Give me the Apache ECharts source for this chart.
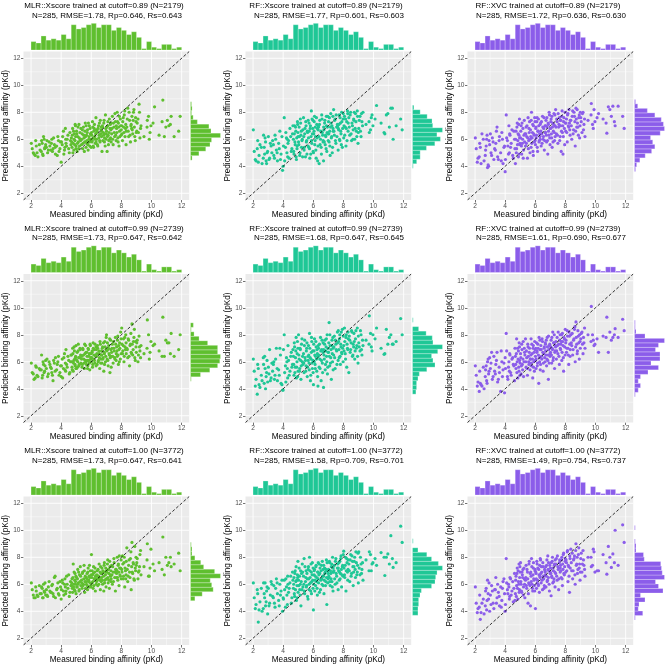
<!DOCTYPE html>
<html>
<head>
<meta charset="utf-8">
<script src="https://cdn.jsdelivr.net/npm/echarts@6/dist/echarts.min.js"></script>
<style>
  html, body { margin: 0; padding: 0; background: #fff; }
  #chart { width: 666px; height: 667px; }
</style>
</head>
<body>
<div id="chart"></div>
<script>
// measured affinity of the test set (same complexes in every panel), read in two passes
const measured = [
  2.02, 2.15, 2.28, 2.35, 2.46, 2.6,
  2.7, 2.77, 2.83, 2.9, 2.97, 3.02, 3.1, 3.2, 3.3,
  3.38, 3.46, 3.55, 3.62, 3.7, 3.78, 3.86, 3.96,
  4.0, 4.07, 4.15, 4.22, 4.3, 4.36, 4.45, 4.54, 4.62,
  4.68, 4.72, 4.76, 4.8, 4.84, 4.88, 4.92, 4.95, 4.99,
  5.02, 5.06, 5.1, 5.14, 5.18, 5.22, 5.27, 5.31,
  5.35, 5.39, 5.43, 5.48, 5.52, 5.56, 5.6, 5.65,
  5.68, 5.72, 5.75, 5.79, 5.83, 5.87, 5.9, 5.94, 5.98,
  6.01, 6.05, 6.08, 6.12, 6.15, 6.19, 6.23, 6.27, 6.31,
  6.35, 6.39, 6.43, 6.48, 6.52, 6.56, 6.6, 6.65,
  6.68, 6.71, 6.75, 6.79, 6.83, 6.87, 6.9, 6.94, 6.98,
  7.01, 7.05, 7.09, 7.12, 7.16, 7.2, 7.24, 7.28, 7.31,
  7.35, 7.4, 7.45, 7.5, 7.55, 7.6, 7.65,
  7.68, 7.72, 7.76, 7.8, 7.84, 7.88, 7.93, 7.98,
  8.02, 8.07, 8.12, 8.17, 8.22, 8.27, 8.31,
  8.36, 8.42, 8.48, 8.54, 8.6, 8.65, 8.7, 8.75, 8.8, 8.86, 8.92, 8.97,
  9.02, 9.1, 9.17, 9.23, 9.3, 9.5, 9.72, 9.85, 9.96, 10.2, 10.5, 10.75, 10.85, 11.15, 11.3, 11.5, 11.8, 11.9
];
const measuredB = [
  2.08, 2.2, 2.31, 2.4, 2.55,
  2.68, 2.74, 2.8, 2.87, 2.93, 3.06, 3.15, 3.25,
  3.35, 3.42, 3.5, 3.6, 3.74, 3.82, 3.92,
  4.02, 4.1, 4.18, 4.25, 4.28, 4.32, 4.4, 4.5, 4.58, 4.65,
  4.7, 4.74, 4.78, 4.82, 4.86, 4.9, 4.93, 4.96, 4.98,
  5.04, 5.08, 5.12, 5.16, 5.2, 5.25, 5.29,
  5.37, 5.41, 5.45, 5.5, 5.54, 5.58, 5.62, 5.66,
  5.7, 5.73, 5.77, 5.81, 5.85, 5.88, 5.92, 5.96, 5.99,
  6.03, 6.06, 6.1, 6.13, 6.17, 6.21, 6.25, 6.29, 6.32, 6.33,
  6.37, 6.41, 6.45, 6.5, 6.54, 6.58, 6.62, 6.66,
  6.69, 6.73, 6.77, 6.81, 6.85, 6.88, 6.92, 6.96, 6.99,
  7.03, 7.07, 7.1, 7.14, 7.18, 7.22, 7.26, 7.3, 7.32,
  7.37, 7.42, 7.47, 7.52, 7.57, 7.62, 7.66,
  7.7, 7.74, 7.78, 7.82, 7.86, 7.9, 7.95, 7.99,
  8.04, 8.09, 8.14, 8.19, 8.24, 8.29, 8.32,
  8.39, 8.45, 8.51, 8.57, 8.63, 8.68, 8.72, 8.78, 8.83, 8.89, 8.94, 8.99,
  9.05, 9.13, 9.2, 9.27, 9.7, 9.8, 9.9, 10.1, 10.7, 10.95, 11.05, 11.25
];

const predMLR089 = [
  5.7, 5.0, 4.8, 5.5, 4.7, 5.2,
  5.9, 4.9, 6.2, 5.3, 5.6, 5.4, 5.0, 5.8, 5.2,
  6.0, 5.3, 5.6, 4.9, 5.5, 6.2, 5.1, 5.8,
  4.3, 5.6, 6.6, 5.2, 6.0, 5.5, 6.3, 5.0, 5.9,
  6.1, 5.4, 6.8, 5.7, 5.2, 6.4, 5.9, 7.0, 5.5,
  6.6, 5.1, 6.2, 5.8, 7.1, 5.5, 6.0, 6.8,
  5.6, 6.4, 5.3, 6.9, 6.1, 5.8, 7.2, 5.4,
  6.3, 5.7, 6.7, 5.2, 6.0, 7.0, 5.5, 6.4, 5.9,
  6.5, 5.8, 7.3, 6.1, 5.4, 6.8, 6.2, 5.7, 7.6,
  6.0, 6.6, 5.5, 7.0, 6.3, 5.9, 7.4, 6.7,
  6.2, 5.1, 6.9, 6.5, 7.2, 5.8, 6.4, 7.8, 6.0,
  6.6, 5.1, 7.0, 6.3, 5.9, 7.5, 6.8, 6.1, 7.2,
  6.4, 7.7, 5.6, 6.9, 6.2, 7.3, 5.9,
  6.8, 8.0, 6.1, 7.2, 5.5, 6.6, 7.5, 6.3,
  7.0, 5.9, 7.6, 6.5, 8.1, 6.8, 5.6,
  6.9, 8.3, 6.2, 7.4, 5.8, 7.1, 7.7, 6.4, 8.0, 6.9, 5.9, 7.3,
  6.6, 7.5, 8.6, 6.1, 7.0, 6.2, 7.4, 6.0, 7.0, 8.4, 6.3, 8.9, 6.2, 7.0, 7.7, 6.2, 6.6, 7.7
];
const predMLR089B = [
  5.3, 4.9, 5.9, 5.0, 5.6,
  5.1, 5.7, 4.8, 6.0, 5.4, 5.9, 5.2, 5.5,
  5.7, 5.1, 6.1, 5.4, 4.8, 5.9, 5.3,
  5.8, 6.2, 4.9, 5.4, 6.8, 5.7, 6.0, 5.3, 6.5, 5.6,
  5.8, 6.3, 5.0, 6.6, 6.0, 5.6, 7.1, 6.2, 5.3,
  6.4, 5.7, 6.9, 5.3, 6.1, 6.5, 5.9,
  6.0, 6.7, 5.7, 6.3, 5.1, 6.6, 6.2, 7.0,
  5.9, 6.5, 5.6, 7.2, 6.2, 5.8, 6.8, 6.0, 5.4,
  6.3, 5.9, 6.9, 5.5, 6.6, 7.1, 6.0, 6.4, 5.8, 6.7,
  6.5, 5.6, 6.8, 6.1, 7.2, 5.8, 6.4, 6.9,
  6.6, 7.0, 5.9, 6.3, 7.4, 6.1, 5.5, 6.8, 6.4,
  6.9, 6.2, 7.3, 5.6, 6.5, 6.0, 7.1, 6.7, 5.8,
  6.8, 6.0, 7.2, 6.5, 7.9, 6.3, 7.0,
  6.5, 7.3, 5.8, 6.9, 7.7, 6.2, 7.0, 6.7,
  6.4, 7.3, 6.9, 7.8, 6.2, 7.1, 6.6,
  7.5, 6.6, 8.0, 6.3, 7.0, 6.8, 6.7, 7.4, 8.2, 6.2, 7.6, 6.5,
  7.2, 6.5, 8.0, 6.8, 6.9, 7.7, 6.5, 7.2, 7.3, 6.9, 7.4, 7.1
];
const predRF089 = [
  6.7, 4.5, 5.3, 4.3, 5.6, 4.2,
  6.3, 4.9, 5.8, 4.2, 5.1, 6.2, 4.6, 5.5, 5.9,
  4.8, 6.3, 5.2, 4.4, 5.7, 6.6, 4.9, 3.7,
  4.0, 7.6, 5.4, 6.1, 4.7, 5.9, 6.8, 5.1, 6.4,
  6.0, 4.9, 7.0, 5.6, 6.6, 4.5, 5.3, 7.3, 6.2,
  5.8, 6.9, 4.8, 7.5, 6.3, 5.4, 6.0, 6.7,
  7.6, 5.2, 6.4, 4.7, 7.0, 5.9, 6.6, 5.5,
  6.1, 7.2, 5.3, 6.8, 4.9, 8.1, 5.7, 6.4, 7.4,
  5.0, 6.6, 7.7, 5.9, 6.2, 4.6, 7.1, 6.8, 5.5,
  6.9, 4.2, 7.4, 6.0, 5.4, 7.8, 6.5, 5.8,
  4.4, 6.7, 7.2, 5.6, 6.2, 7.7, 5.1, 6.9, 6.4,
  7.3, 5.8, 6.6, 4.8, 7.9, 6.1, 7.0, 5.4, 6.8,
  8.2, 6.3, 7.5, 5.7, 6.9, 7.1, 5.2,
  6.7, 7.8, 5.9, 7.2, 6.4, 8.0, 5.4, 7.5,
  6.1, 7.7, 6.9, 5.5, 7.3, 8.1, 6.6,
  7.6, 6.3, 8.0, 5.9, 7.0, 6.7, 7.4, 6.0, 7.9, 6.6, 8.1, 5.7,
  6.8, 7.7, 6.2, 7.3, 8.0, 7.1, 6.5, 7.6, 7.0, 8.5, 7.2, 6.4, 7.8, 8.3, 6.0, 7.0, 7.5, 6.7
];
const predRF089B = [
  5.1, 4.4, 5.9, 4.8, 5.4,
  4.6, 5.4, 6.1, 4.4, 5.0, 4.5, 5.7, 5.0,
  5.6, 4.6, 6.0, 5.0, 5.3, 4.5, 6.2,
  5.5, 4.4, 6.5, 5.0, 6.0, 5.7, 4.6, 6.2, 5.3, 7.0,
  5.1, 6.4, 5.8, 6.9, 4.7, 6.1, 5.5, 7.1, 6.5,
  5.6, 6.2, 5.0, 7.2, 6.6, 5.9, 4.7,
  6.2, 5.4, 6.8, 7.3, 5.8, 4.9, 6.5, 7.4,
  5.4, 6.6, 4.6, 7.0, 6.2, 5.9, 7.5, 6.8, 5.1,
  6.4, 7.3, 5.6, 6.9, 5.2, 7.6, 6.1, 4.4, 6.7, 7.0,
  6.2, 7.1, 5.6, 6.6, 4.9, 7.5, 6.3, 5.9,
  6.9, 5.8, 7.4, 6.3, 5.3, 7.0, 6.5, 7.7, 5.9,
  6.4, 7.6, 5.5, 6.9, 7.2, 6.2, 5.0, 7.7, 6.6,
  6.6, 7.4, 5.9, 7.8, 6.2, 7.0, 6.8,
  7.1, 6.0, 7.6, 6.6, 5.6, 7.3, 6.8, 7.9,
  7.0, 6.3, 7.5, 6.8, 5.9, 7.9, 7.2,
  6.9, 7.8, 6.4, 7.2, 6.0, 7.5, 8.0, 6.8, 7.3, 6.2, 7.7, 6.5,
  7.4, 6.6, 7.9, 7.0, 7.3, 6.7, 7.8, 7.5, 6.5, 7.9, 6.9, 8.3
];
const predXVC089 = [
  6.1, 4.3, 4.7, 5.4, 6.4, 4.4,
  5.2, 6.0, 3.9, 4.0, 5.6, 6.4, 4.8, 5.8, 5.3,
  5.7, 6.9, 4.5, 6.2, 5.0, 6.5, 4.2, 5.5,
  3.6, 7.8, 5.9, 4.9, 6.4, 5.4, 6.7, 4.6, 6.0,
  4.2, 6.6, 5.3, 7.2, 5.9, 4.7, 6.3, 7.5, 5.6,
  6.1, 7.0, 4.9, 5.7, 6.8, 5.2, 7.4, 6.4,
  5.5, 6.9, 6.2, 4.6, 7.6, 5.9, 6.5, 5.0,
  6.7, 5.4, 8.0, 6.1, 7.1, 4.8, 6.4, 5.8, 7.3,
  5.6, 6.9, 6.3, 7.6, 5.1, 6.6, 7.0, 5.9, 6.2,
  7.2, 5.5, 6.4, 7.7, 6.0, 6.8, 5.2, 7.0,
  6.5, 7.4, 5.8, 6.9, 4.9, 7.1, 6.3, 7.8, 5.6,
  6.8, 7.5, 6.1, 5.4, 7.2, 6.6, 7.9, 5.9, 7.0,
  8.2, 6.4, 7.3, 5.7, 6.9, 7.6, 6.2,
  7.0, 5.1, 7.7, 6.5, 4.9, 7.3, 6.8, 8.0,
  6.6, 7.5, 5.8, 7.9, 6.9, 7.2, 6.3,
  7.4, 6.0, 8.1, 6.7, 7.7, 5.5, 8.3, 6.9, 7.2, 6.3, 7.8, 7.0,
  7.6, 6.5, 8.0, 7.1, 6.2, 7.4, 8.65, 6.8, 7.3, 7.9, 7.5, 6.45, 8.4, 8.45, 7.0, 8.45, 7.7, 6.8
];
const predXVC089B = [
  5.3, 4.6, 5.7, 4.2, 6.0,
  4.8, 5.5, 6.3, 4.1, 5.9, 5.0, 6.1, 4.5,
  5.2, 6.6, 4.7, 5.9, 4.4, 6.0, 5.4,
  4.5, 6.1, 5.5, 7.0, 5.0, 6.3, 5.7, 4.8, 6.6, 5.3,
  6.0, 5.0, 6.9, 5.6, 6.4, 7.1, 4.9, 6.1, 5.7,
  6.6, 5.5, 7.2, 6.0, 4.6, 6.3, 5.8,
  6.4, 5.7, 7.0, 6.1, 5.3, 6.8, 7.3, 6.0,
  6.2, 7.4, 5.7, 6.5, 5.1, 7.0, 6.3, 7.6, 5.9,
  6.8, 6.1, 7.3, 5.4, 6.6, 7.5, 5.8, 6.4, 7.1, 6.0,
  6.6, 7.3, 5.7, 6.9, 6.2, 7.6, 5.9, 6.5,
  7.0, 6.3, 7.6, 5.9, 7.2, 6.6, 8.0, 6.1, 6.8,
  7.3, 6.4, 7.7, 6.9, 5.8, 7.1, 6.5, 7.8, 6.2,
  6.9, 7.5, 6.3, 7.9, 7.1, 5.9, 7.4,
  7.4, 6.6, 8.1, 7.0, 6.2, 7.6, 5.6, 7.2,
  7.2, 6.5, 7.8, 7.0, 8.2, 6.7, 7.4,
  7.0, 7.7, 6.4, 8.0, 7.3, 6.6, 7.5, 8.2, 6.9, 7.6, 6.1, 8.0,
  7.3, 7.9, 6.7, 7.5, 7.8, 7.1, 8.2, 7.6, 7.2, 8.2, 7.7, 7.3
];
const predMLR099 = [
  5.9, 5.1, 4.8, 5.6, 4.9, 5.4,
  6.5, 5.0, 5.8, 5.3, 6.1, 5.5, 4.9, 6.0, 5.6,
  5.2, 4.6, 5.9, 6.3, 5.4, 6.0, 5.0, 5.7,
  4.9, 6.2, 5.5, 6.6, 5.3, 5.8, 6.4, 5.1, 6.0,
  6.5, 5.6, 7.0, 5.3, 6.1, 6.8, 5.8, 6.3, 7.2,
  5.5, 6.7, 6.0, 7.3, 5.7, 6.3, 6.9, 5.9,
  6.2, 5.6, 7.0, 6.5, 5.9, 7.3, 6.1, 6.7,
  5.8, 6.4, 5.5, 7.0, 6.1, 6.6, 5.4, 7.2, 6.3,
  6.0, 6.7, 5.6, 7.4, 6.2, 6.9, 5.9, 6.5, 7.1,
  6.4, 5.8, 7.0, 6.1, 6.6, 5.5, 7.3, 6.2,
  6.8, 5.9, 7.1, 6.3, 5.3, 6.6, 7.5, 6.0, 6.9,
  8.0, 6.2, 6.9, 5.7, 7.2, 6.5, 5.2, 7.6, 6.4,
  6.7, 7.3, 5.9, 7.0, 6.3, 7.8, 6.1,
  7.1, 6.4, 7.9, 5.8, 6.9, 7.4, 6.2, 7.7,
  8.5, 6.6, 7.2, 6.0, 7.8, 6.9, 7.4,
  7.0, 6.3, 7.6, 5.7, 7.3, 6.7, 8.8, 6.5, 7.5, 8.4, 6.1, 7.1,
  7.4, 6.0, 7.9, 6.8, 7.2, 6.6, 9.1, 6.2, 7.5, 7.3, 6.8, 9.3, 6.4, 7.4, 8.1, 6.4, 6.9, 8.0
];
const predMLR099B = [
  5.2, 4.7, 5.7, 5.0, 5.5,
  5.4, 4.8, 6.0, 5.2, 5.7, 6.2, 5.1, 5.8,
  5.5, 5.0, 6.1, 5.3, 5.8, 6.4, 5.2,
  5.7, 4.8, 6.3, 5.4, 5.9, 6.9, 5.6, 6.1, 5.2, 6.5,
  6.0, 5.4, 6.6, 5.9, 7.1, 6.2, 5.7, 6.4, 5.5,
  6.1, 5.6, 6.8, 6.3, 5.8, 7.0, 6.5,
  6.4, 5.8, 6.9, 6.2, 5.5, 6.6, 7.2, 6.0,
  6.7, 6.1, 5.7, 6.9, 6.4, 5.9, 7.3, 6.2, 6.6,
  6.3, 6.8, 5.8, 7.0, 6.5, 6.1, 7.3, 6.4, 5.7, 6.9,
  6.6, 7.2, 6.0, 6.8, 6.3, 7.5, 5.9, 6.5,
  6.5, 7.0, 6.2, 7.4, 6.7, 5.8, 7.1, 6.4, 7.8,
  6.8, 7.4, 6.1, 7.0, 6.6, 7.7, 6.3, 6.9, 5.6,
  7.0, 6.4, 7.5, 6.8, 6.2, 7.3, 6.6,
  6.8, 7.6, 6.5, 7.2, 6.0, 7.0, 8.2, 6.6,
  7.3, 6.8, 7.7, 6.4, 7.1, 8.0, 6.6,
  6.9, 7.7, 6.4, 7.2, 8.1, 6.6, 7.3, 6.9, 7.8, 6.3, 7.5, 6.7,
  7.6, 6.5, 7.1, 6.3, 7.0, 8.0, 6.7, 7.2, 6.4, 7.6, 7.4, 6.6
];
const predRF099 = [
  6.2, 4.2, 3.6, 5.5, 4.1, 4.6,
  5.8, 6.4, 4.0, 5.2, 4.5, 5.6, 6.9, 4.8, 5.3,
  6.0, 5.0, 7.0, 4.6, 5.4, 7.0, 4.4, 3.9,
  3.9, 8.0, 5.7, 6.3, 4.8, 6.1, 5.3, 6.7, 5.8,
  6.4, 5.0, 7.1, 5.6, 6.8, 4.8, 6.0, 7.5, 5.3,
  8.0, 6.2, 5.5, 6.9, 4.7, 7.3, 6.0, 5.8,
  6.6, 5.2, 7.6, 6.1, 5.7, 7.0, 4.9, 6.4,
  7.2, 5.9, 8.1, 6.3, 5.0, 6.7, 7.5, 5.5, 6.1,
  4.3, 6.8, 7.7, 5.8, 6.4, 7.1, 5.3, 6.6, 4.2,
  7.0, 5.6, 6.2, 7.8, 4.6, 6.9, 5.9, 7.4,
  4.1, 6.5, 7.3, 5.4, 6.8, 7.7, 6.0, 5.1, 7.0,
  6.7, 8.9, 5.7, 7.2, 6.3, 4.7, 7.6, 6.0, 7.0,
  6.5, 7.9, 5.5, 7.3, 6.8, 8.2, 6.1,
  7.5, 6.3, 8.0, 5.8, 7.1, 6.7, 8.4, 6.0,
  7.2, 8.5, 6.6, 7.8, 5.6, 7.0, 8.2,
  5.2, 7.6, 6.9, 8.3, 6.4, 7.3, 8.1, 6.2, 7.7, 7.0, 8.5, 5.9,
  7.4, 6.8, 8.0, 6.5, 7.2, 7.6, 9.4, 7.1, 8.0, 8.5, 7.0, 6.6, 8.4, 8.0, 7.3, 7.5, 9.2, 8.0
];
const predRF099B = [
  5.3, 4.7, 5.8, 4.3, 5.0,
  6.3, 4.4, 5.5, 4.9, 6.1, 5.1, 4.6, 5.9,
  5.8, 4.7, 6.2, 5.5, 5.0, 6.5, 4.3,
  6.9, 5.2, 4.5, 6.0, 5.5, 7.2, 5.0, 6.4, 5.6, 6.9,
  5.8, 7.4, 5.2, 6.3, 7.8, 5.6, 6.6, 4.9, 7.0,
  6.5, 5.3, 7.0, 6.1, 5.7, 7.7, 6.4,
  5.9, 7.2, 6.3, 5.3, 6.8, 7.4, 5.6, 6.1,
  6.5, 5.4, 7.0, 4.6, 6.2, 7.8, 5.9, 6.8, 5.2,
  7.3, 6.0, 6.5, 5.5, 7.5, 6.2, 6.9, 4.9, 6.4, 7.2,
  6.5, 7.3, 5.5, 6.8, 6.1, 7.6, 5.2, 6.7,
  6.9, 6.2, 7.6, 5.8, 7.1, 6.4, 8.0, 5.6, 6.7,
  7.4, 6.4, 8.0, 5.9, 6.9, 7.2, 6.6, 7.8, 5.4,
  7.1, 6.3, 7.6, 6.9, 5.8, 7.4, 8.3,
  6.9, 7.7, 6.4, 7.3, 8.2, 6.6, 7.0, 7.9,
  6.8, 7.5, 6.2, 8.0, 7.3, 6.9, 7.7,
  7.9, 6.7, 7.4, 8.2, 6.5, 7.1, 7.5, 6.8, 8.3, 7.2, 6.4, 7.9,
  7.1, 8.3, 6.9, 7.6, 7.3, 8.1, 6.8, 7.7, 6.55, 7.3, 7.8, 7.3
];
const predXVC099 = [
  5.7, 4.2, 3.8, 4.4, 4.2, 4.0,
  5.4, 4.6, 6.0, 5.1, 6.3, 5.5, 6.7, 4.9, 5.3,
  5.8, 6.7, 4.7, 5.2, 3.8, 6.0, 5.4, 3.7,
  6.3, 8.1, 4.9, 5.6, 6.6, 5.2, 6.2, 5.8, 4.6,
  6.4, 5.5, 7.7, 6.0, 4.8, 6.8, 5.3, 7.1, 5.9,
  6.6, 5.1, 7.3, 5.8, 6.2, 4.9, 7.0, 6.5,
  7.7, 5.6, 6.3, 5.0, 7.1, 6.0, 6.7, 5.4,
  6.2, 7.7, 5.7, 6.6, 4.8, 7.2, 6.0, 5.3, 6.9,
  6.4, 5.5, 7.4, 6.8, 5.9, 7.0, 4.4, 6.3, 7.6,
  5.8, 6.9, 6.2, 7.5, 5.3, 6.6, 7.1, 6.0,
  7.3, 6.5, 5.7, 7.8, 6.1, 4.7, 6.9, 7.2, 6.4,
  6.7, 7.6, 5.9, 7.0, 8.2, 6.3, 7.4, 5.5, 6.8,
  7.1, 6.2, 7.8, 6.6, 7.3, 5.8, 8.0,
  6.9, 7.5, 6.1, 8.1, 7.2, 5.3, 7.7, 6.5,
  7.4, 6.7, 8.3, 7.0, 5.8, 7.9, 6.4,
  8.0, 7.2, 6.5, 7.6, 8.4, 6.0, 8.95, 7.3, 6.8, 7.9, 6.2, 7.5,
  7.7, 8.2, 6.6, 7.4, 7.0, 8.0, 10.1, 7.6, 7.3, 6.7, 7.9, 9.3, 6.7, 7.8, 8.45, 7.8, 9.15, 8.3
];
const predXVC099B = [
  5.0, 4.5, 5.3, 4.3, 5.6,
  4.9, 5.7, 4.4, 6.2, 5.3, 5.9, 4.7, 6.4,
  5.1, 6.1, 4.5, 5.6, 6.8, 4.9, 5.9,
  5.5, 6.8, 4.7, 6.0, 5.3, 6.5, 5.0, 6.3, 5.7, 7.0,
  5.8, 6.6, 5.2, 7.0, 6.2, 5.6, 7.4, 6.1, 5.0,
  6.3, 5.7, 6.9, 5.4, 7.5, 6.0, 6.7,
  6.0, 6.8, 5.5, 7.3, 6.4, 5.8, 7.0, 6.2,
  6.5, 5.9, 7.3, 6.2, 7.0, 5.6, 6.7, 7.5, 6.1,
  7.0, 6.2, 6.7, 5.7, 7.3, 6.5, 7.8, 6.0, 6.9, 5.4,
  7.2, 6.4, 7.7, 6.7, 5.9, 7.0, 6.3, 7.4,
  6.8, 7.6, 6.2, 7.1, 6.5, 7.9, 5.9, 7.3, 6.6,
  7.1, 6.5, 7.8, 6.9, 6.1, 7.4, 8.0, 6.7, 7.2,
  7.5, 6.8, 7.2, 8.2, 6.4, 7.6, 7.0,
  7.3, 8.0, 6.7, 7.5, 6.3, 7.8, 7.1, 8.4,
  7.6, 7.0, 7.9, 6.5, 8.2, 7.3, 6.9,
  7.4, 8.1, 6.9, 7.7, 8.6, 7.1, 7.8, 6.6, 8.3, 7.4, 8.0, 7.0,
  8.1, 7.3, 7.8, 8.5, 7.5, 8.0, 7.2, 7.7, 7.8, 8.2, 7.6, 8.0
];
const predMLR100 = [
  6.1, 5.2, 5.0, 5.5, 5.1, 5.3,
  5.8, 5.0, 6.0, 5.4, 5.2, 5.6, 5.1, 6.2, 5.4,
  5.9, 5.3, 6.5, 5.0, 5.6, 6.1, 5.2, 5.8,
  4.9, 6.3, 5.5, 6.0, 5.3, 6.6, 5.7, 5.1, 6.2,
  5.9, 6.4, 5.4, 7.5, 6.0, 5.6, 6.8, 6.2, 5.3,
  6.5, 5.8, 7.1, 6.1, 5.5, 6.7, 7.3, 5.9,
  6.3, 5.7, 6.9, 6.0, 7.4, 5.4, 6.6, 6.2,
  6.0, 6.8, 5.6, 7.2, 6.3, 5.8, 6.5, 7.0, 5.9,
  8.2, 6.1, 6.7, 5.7, 7.3, 6.4, 6.9, 5.5, 6.6,
  6.2, 7.0, 5.9, 6.6, 7.5, 6.3, 5.6, 6.8,
  6.5, 7.2, 6.0, 6.9, 5.5, 7.6, 6.3, 6.7, 5.8,
  7.0, 6.4, 7.8, 6.1, 6.8, 5.7, 7.3, 6.6, 6.2,
  7.4, 6.0, 6.9, 7.9, 6.5, 5.5, 7.1,
  6.8, 8.0, 6.3, 7.5, 5.9, 7.2, 6.6, 7.8,
  7.1, 8.1, 6.4, 7.6, 5.8, 7.0, 6.7,
  8.7, 6.2, 7.4, 6.9, 7.9, 5.6, 9.1, 6.8, 7.5, 6.3, 7.2, 8.0,
  7.6, 6.4, 7.0, 8.2, 6.7, 7.3, 9.0, 6.6, 8.6, 7.0, 7.6, 9.5, 6.7, 7.6, 7.3, 7.5, 8.3, 7.0
];
const predMLR100B = [
  5.6, 5.0, 5.8, 5.2, 5.9,
  5.3, 5.7, 5.0, 5.5, 6.1, 5.2, 5.8, 5.5,
  5.4, 6.0, 5.1, 6.6, 5.7, 5.3, 6.2,
  5.6, 6.1, 5.2, 6.4, 5.8, 5.5, 6.0, 6.7, 5.4, 5.9,
  6.1, 5.7, 6.5, 5.8, 6.9, 6.3, 5.5, 6.0, 6.6,
  5.8, 6.4, 6.0, 6.9, 5.6, 6.2, 6.6,
  6.1, 6.8, 5.9, 6.4, 7.0, 6.2, 5.7, 6.5,
  6.4, 5.9, 6.9, 6.2, 6.6, 7.4, 6.1, 5.8, 6.7,
  6.5, 7.0, 6.2, 6.8, 5.9, 6.4, 7.2, 6.6, 6.0, 6.3,
  6.7, 6.4, 7.1, 6.0, 6.5, 6.9, 7.3, 6.2,
  6.8, 6.3, 7.0, 6.6, 7.4, 6.1, 6.9, 7.2, 6.4,
  6.9, 7.5, 6.5, 7.1, 6.3, 7.7, 6.7, 7.0, 6.4,
  6.7, 7.3, 6.2, 7.6, 6.9, 7.1, 6.5,
  7.0, 6.5, 7.4, 6.9, 8.1, 6.7, 7.2, 6.4,
  6.9, 7.5, 6.6, 8.0, 7.2, 6.4, 7.7,
  7.1, 6.6, 7.8, 6.5, 8.4, 7.3, 6.9, 7.6, 6.4, 8.8, 7.0, 7.4,
  7.9, 6.9, 7.3, 8.5, 7.8, 6.6, 7.2, 7.5, 7.1, 8.0, 7.4, 8.0
];
const predRF100 = [
  6.1, 4.2, 5.6, 3.2, 4.7, 4.0,
  6.1, 5.0, 4.4, 5.5, 3.8, 5.7, 4.6, 6.2, 5.1,
  5.9, 4.3, 6.4, 5.3, 4.8, 6.0, 5.5, 4.0,
  5.0, 6.3, 4.3, 5.8, 6.6, 5.4, 6.1, 4.6, 6.9,
  5.7, 6.5, 5.1, 7.0, 6.2, 4.8, 5.9, 6.7, 5.4,
  6.3, 7.2, 5.6, 6.0, 4.4, 6.8, 7.5, 5.8,
  6.6, 7.9, 5.3, 6.2, 7.0, 5.9, 6.4, 4.9,
  7.3, 6.0, 8.0, 6.5, 5.5, 6.9, 6.2, 7.6, 5.7,
  4.1, 6.7, 7.1, 6.3, 5.9, 7.4, 6.5, 5.2, 6.9,
  6.1, 7.5, 6.8, 5.6, 7.0, 6.4, 7.7, 5.9,
  6.6, 5.3, 7.2, 6.9, 6.2, 7.8, 4.5, 7.0, 6.4,
  7.1, 6.5, 7.6, 5.9, 6.8, 7.3, 6.2, 8.0, 5.5,
  6.9, 7.4, 6.0, 7.9, 6.6, 7.2, 5.6,
  7.0, 6.3, 7.7, 6.8, 8.1, 5.8, 7.3, 6.6,
  8.45, 6.7, 7.4, 5.5, 7.9, 6.9, 7.1,
  7.5, 6.2, 8.2, 6.8, 7.7, 5.9, 7.3, 8.0, 6.5, 7.6, 6.9, 8.3,
  8.4, 6.7, 7.5, 7.1, 6.3, 7.8, 8.4, 7.0, 7.6, 7.4, 8.35, 6.65, 8.0, 9.6, 7.25, 7.6, 10.3, 9.1
];
const predRF100B = [
  5.0, 4.5, 5.3, 4.1, 5.7,
  4.2, 5.3, 6.1, 4.7, 5.8, 4.4, 5.2, 6.0,
  5.0, 4.6, 5.7, 6.1, 4.4, 5.2, 6.3,
  4.9, 5.6, 6.4, 5.2, 4.5, 6.0, 5.7, 6.6, 5.0, 6.3,
  6.0, 5.3, 6.8, 5.6, 7.3, 6.3, 5.0, 6.5, 7.7,
  5.9, 6.6, 5.2, 7.0, 6.2, 5.6, 6.9,
  6.0, 5.5, 7.3, 6.5, 5.8, 6.8, 5.1, 7.1,
  6.4, 5.6, 7.0, 6.1, 7.5, 5.3, 6.7, 6.3, 7.2,
  6.0, 7.0, 5.5, 6.6, 7.3, 6.2, 5.7, 6.9, 6.4, 7.6,
  6.7, 5.4, 7.2, 6.3, 7.4, 6.0, 6.6, 7.1,
  7.4, 6.3, 6.8, 5.9, 7.1, 6.5, 7.6, 6.1, 6.8,
  6.6, 7.7, 6.2, 7.0, 6.4, 7.5, 5.8, 6.9, 7.2,
  7.0, 6.4, 7.7, 6.8, 6.1, 7.5, 7.2,
  7.6, 6.9, 6.4, 7.9, 7.1, 6.7, 7.4, 8.2,
  7.2, 6.5, 8.0, 7.0, 7.6, 6.3, 7.8,
  7.0, 7.8, 6.6, 8.1, 7.3, 6.9, 7.7, 7.1, 8.4, 6.7, 7.4, 6.1,
  7.2, 8.0, 6.8, 7.6, 7.0, 8.2, 7.5, 7.9, 8.0, 8.25, 7.5, 7.9
];
const predXVC100 = [
  5.8, 3.9, 4.3, 3.4, 4.6, 3.8,
  5.5, 4.1, 6.3, 4.9, 4.0, 5.2, 5.9, 4.6, 5.6,
  6.5, 5.0, 5.4, 4.4, 5.8, 4.8, 6.2, 5.3,
  4.0, 7.9, 5.6, 6.0, 5.1, 6.4, 5.5, 4.7, 6.8,
  5.3, 6.6, 5.9, 7.2, 4.9, 6.2, 7.5, 5.6, 6.9,
  7.6, 6.0, 5.4, 6.7, 7.1, 5.8, 6.4, 5.0,
  6.3, 7.4, 5.7, 6.9, 4.6, 6.1, 7.7, 5.9,
  4.4, 6.6, 7.9, 6.0, 5.5, 7.2, 6.4, 5.9, 7.0,
  4.2, 6.8, 5.7, 7.5, 6.3, 6.0, 7.1, 5.4, 6.6,
  7.8, 6.1, 6.9, 5.6, 7.3, 6.4, 5.9, 7.0,
  6.7, 5.8, 7.4, 6.2, 8.1, 6.5, 7.0, 5.5, 6.9,
  7.2, 5.15, 6.6, 7.7, 6.1, 7.0, 6.4, 7.5, 5.8,
  6.8, 7.9, 6.3, 7.3, 5.6, 7.6, 6.9,
  7.4, 6.5, 8.0, 5.9, 7.1, 8.3, 6.7, 7.7,
  6.9, 7.6, 8.4, 6.2, 7.3, 5.4, 7.9,
  8.6, 7.0, 6.4, 7.8, 8.1, 6.0, 9.0, 7.5, 6.8, 8.2, 7.2, 6.3,
  7.9, 6.9, 8.5, 7.4, 6.6, 8.0, 7.3, 8.6, 6.9, 7.0, 8.2, 6.75, 8.8, 8.25, 10.0, 7.4, 10.4, 9.1
];
const predXVC100B = [
  4.6, 4.2, 5.2, 3.9, 4.9,
  4.4, 5.7, 4.8, 5.3, 6.1, 4.5, 5.5, 4.2,
  5.6, 4.6, 6.0, 5.1, 4.3, 5.7, 6.4,
  4.5, 6.1, 5.3, 5.8, 4.9, 6.5, 5.2, 6.2, 5.7, 4.8,
  6.3, 5.1, 6.8, 5.7, 7.0, 6.0, 5.4, 6.5, 7.3,
  6.2, 5.5, 6.9, 6.5, 5.2, 7.2, 6.0,
  6.5, 5.9, 7.1, 6.4, 5.3, 7.5, 6.0, 6.8,
  6.9, 6.2, 7.3, 5.7, 6.7, 7.6, 6.3, 5.5, 7.1,
  6.9, 6.4, 7.7, 6.1, 7.2, 5.9, 6.7, 7.4, 6.5, 7.9,
  6.8, 7.3, 6.3, 7.6, 6.6, 5.7, 7.1, 6.9,
  7.3, 6.6, 7.8, 6.3, 7.1, 7.6, 6.0, 7.4, 6.8,
  6.8, 7.6, 6.5, 8.0, 7.2, 6.2, 7.4, 6.9, 7.8,
  7.5, 6.6, 8.1, 7.1, 6.4, 7.8, 7.2,
  7.0, 7.8, 6.4, 7.5, 8.2, 6.8, 7.3, 7.9,
  7.8, 7.0, 8.5, 7.4, 6.6, 8.1, 7.2,
  7.6, 8.3, 7.0, 7.9, 6.7, 8.5, 7.4, 8.0, 7.1, 8.7, 7.5, 6.9,
  8.3, 7.5, 7.8, 7.1, 8.0, 7.4, 8.4, 7.0, 7.6, 8.0, 7.25, 7.6
];

// top marginal histogram of measured affinity (bins of 1/3 from 2.0)
const topHistStart = 2.0;
const topHistCounts = [6, 5, 10, 7, 8, 7, 11, 8, 18, 15, 16, 18, 19, 16, 18, 18, 14, 16, 14, 11, 13, 9, 1, 6, 2, 1, 4, 4, 1, 2];

// right marginal histograms of predicted affinity (bins of 1/3, bottom to top)
const rhStartMLR089 = 4.45, rhMLR089 = [3, 16, 29, 37, 40, 57, 39, 35, 13, 5, 2, 3, 2];
const rhStartRF089 = 3.85, rhRF089 = [1, 6, 11, 11, 20, 32, 40, 35, 43, 29, 28, 21, 11, 2];
const rhStartXVC089 = 3.62, rhXVC089 = [1, 2, 5, 10, 16, 19, 17, 15, 24, 28, 27, 25, 19, 12, 3, 1];
const rhStartMLR099 = 4.55, rhMLR099 = [1, 14, 27, 38, 41, 42, 38, 38, 24, 12, 5, 1, 4];
const rhStartRF099 = 3.6, rhRF099 = [5, 6, 6, 8, 10, 21, 33, 30, 28, 37, 44, 30, 29, 20, 9, 0, 1];
const rhStartXVC099 = 3.4, rhXVC099 = [1, 5, 8, 5, 8, 18, 32, 22, 34, 34, 28, 32, 40, 14, 2, 1, 1];
const rhStartMLR100 = 4.78, rhMLR100 = [6, 16, 31, 29, 27, 41, 33, 18, 14, 6, 2, 2, 1];
const rhStartRF100 = 3.7, rhRF100 = [8, 8, 9, 9, 11, 13, 28, 33, 34, 36, 44, 38, 28, 21, 8, 0, 1];
const rhStartXVC100 = 3.35, rhXVC100 = [1, 11, 5, 6, 14, 8, 38, 32, 28, 40, 37, 36, 35, 13, 12, 2, 2, 1, 0, 0, 1];

const binWidth = 1 / 3;
const majorTicks = [2, 4, 6, 8, 10, 12];
const minorTicks = [3, 5, 7, 9, 11];
const lo = 1.5, hi = 12.5;

const GREEN = '#5FBF2F', TEAL = '#1FC796', PURPLE = '#8B5DEA';

const panels = [
  { title: 'MLR::Xscore trained at cutoff=0.89 (N=2179)', stats: 'N=285, RMSE=1.78, Rp=0.646, Rs=0.643', color: GREEN, pred: predMLR089, predB: predMLR089B, rh: rhMLR089, rhStart: rhStartMLR089 },
  { title: 'RF::Xscore trained at cutoff=0.89 (N=2179)', stats: 'N=285, RMSE=1.77, Rp=0.601, Rs=0.603', color: TEAL, pred: predRF089, predB: predRF089B, rh: rhRF089, rhStart: rhStartRF089 },
  { title: 'RF::XVC trained at cutoff=0.89 (N=2179)', stats: 'N=285, RMSE=1.72, Rp=0.636, Rs=0.630', color: PURPLE, pred: predXVC089, predB: predXVC089B, rh: rhXVC089, rhStart: rhStartXVC089 },
  { title: 'MLR::Xscore trained at cutoff=0.99 (N=2739)', stats: 'N=285, RMSE=1.73, Rp=0.647, Rs=0.642', color: GREEN, pred: predMLR099, predB: predMLR099B, rh: rhMLR099, rhStart: rhStartMLR099 },
  { title: 'RF::Xscore trained at cutoff=0.99 (N=2739)', stats: 'N=285, RMSE=1.68, Rp=0.647, Rs=0.645', color: TEAL, pred: predRF099, predB: predRF099B, rh: rhRF099, rhStart: rhStartRF099 },
  { title: 'RF::XVC trained at cutoff=0.99 (N=2739)', stats: 'N=285, RMSE=1.61, Rp=0.690, Rs=0.677', color: PURPLE, pred: predXVC099, predB: predXVC099B, rh: rhXVC099, rhStart: rhStartXVC099 },
  { title: 'MLR::Xscore trained at cutoff=1.00 (N=3772)', stats: 'N=285, RMSE=1.73, Rp=0.647, Rs=0.641', color: GREEN, pred: predMLR100, predB: predMLR100B, rh: rhMLR100, rhStart: rhStartMLR100 },
  { title: 'RF::Xscore trained at cutoff=1.00 (N=3772)', stats: 'N=285, RMSE=1.58, Rp=0.709, Rs=0.701', color: TEAL, pred: predRF100, predB: predRF100B, rh: rhRF100, rhStart: rhStartRF100 },
  { title: 'RF::XVC trained at cutoff=1.00 (N=3772)', stats: 'N=285, RMSE=1.49, Rp=0.754, Rs=0.737', color: PURPLE, pred: predXVC100, predB: predXVC100B, rh: rhXVC100, rhStart: rhStartXVC100 }
];

const FONT = '"Liberation Sans", Arial, Helvetica, sans-serif';
const cellW = 222, cellH = 222.5;
const main = { left: 23.5, top: 51.5, width: 165.7, height: 148.5 };

const grids = [], xAxes = [], yAxes = [], series = [], graphics = [];
const gridValues = majorTicks.map(v => [v, v, 1]).concat(minorTicks.map(v => [v, v, 0]));

function addGrid(g) { grids.push(g); return grids.length - 1; }
function pairs(xs, ys) { return xs.map((x, k) => [x, ys[k]]).filter(d => d[1] != null); }

panels.forEach((p, i) => {
  const x0 = (i % 3) * cellW, y0 = Math.floor(i / 3) * cellH;

  // scatter panel
  const gi = addGrid({ left: x0 + main.left, top: y0 + main.top, width: main.width, height: main.height,
    show: true, backgroundColor: '#EBEBEB', borderWidth: 0 });
  xAxes.push({
    gridIndex: gi, type: 'value', min: lo, max: hi,
    name: 'Measured binding affinity (pKd)', nameLocation: 'middle', nameGap: 8,
    nameTextStyle: { fontSize: 8.2, color: '#000', fontFamily: FONT },
    axisLine: { show: false },
    axisTick: { show: true, customValues: majorTicks, length: 2.5, lineStyle: { color: '#333', width: 0.7 } },
    axisLabel: { customValues: majorTicks, fontSize: 6.6, color: '#4D4D4D', fontFamily: FONT, margin: 2.5 },
    splitLine: { show: false }
  });
  yAxes.push({
    gridIndex: gi, type: 'value', min: lo, max: hi,
    name: 'Predicted binding affinity (pKd)', nameLocation: 'middle', nameGap: 13,
    nameTextStyle: { fontSize: 8.2, color: '#000', fontFamily: FONT },
    axisLine: { show: false },
    axisTick: { show: true, customValues: majorTicks, length: 2.5, lineStyle: { color: '#333', width: 0.7 } },
    axisLabel: { customValues: majorTicks, fontSize: 6.6, color: '#4D4D4D', fontFamily: FONT, margin: 3 },
    splitLine: { show: false }
  });
  series.push({
    type: 'custom', xAxisIndex: gi, yAxisIndex: gi, z: 1, silent: true,
    data: gridValues, encode: { x: 0, y: 1 },
    renderItem: (params, api) => {
      const v = api.value(0), w = api.value(2) ? 0.9 : 0.45;
      const a = api.coord([v, lo]), b = api.coord([v, hi]);
      const c = api.coord([lo, v]), d = api.coord([hi, v]);
      return { type: 'group', children: [
        { type: 'line', shape: { x1: a[0], y1: a[1], x2: b[0], y2: b[1] }, style: { stroke: '#fff', lineWidth: w } },
        { type: 'line', shape: { x1: c[0], y1: c[1], x2: d[0], y2: d[1] }, style: { stroke: '#fff', lineWidth: w } }
      ]};
    }
  });
  series.push({
    type: 'scatter', xAxisIndex: gi, yAxisIndex: gi, z: 2, silent: true,
    symbol: 'circle', symbolSize: 3.2,
    itemStyle: { color: p.color, opacity: 1 },
    data: pairs(measured, p.pred).concat(pairs(measuredB, p.predB))
  });
  series.push({
    type: 'line', xAxisIndex: gi, yAxisIndex: gi, z: 3, silent: true,
    symbol: 'none', data: [[lo, lo], [hi, hi]],
    lineStyle: { color: '#000', width: 0.8, type: [3, 2] }
  });

  // top marginal histogram
  const ti = addGrid({ left: x0 + main.left, top: y0 + 22, width: main.width, height: 28 });
  const topMax = Math.max(...topHistCounts);
  xAxes.push({ gridIndex: ti, type: 'value', min: lo, max: hi, show: false });
  yAxes.push({ gridIndex: ti, type: 'value', min: 0, max: topMax * 1.05, show: false });
  series.push({
    type: 'custom', xAxisIndex: ti, yAxisIndex: ti, silent: true,
    data: topHistCounts.map((c, k) => [topHistStart + k * binWidth, topHistStart + (k + 1) * binWidth, c]),
    encode: { x: [0, 1], y: 2 },
    renderItem: (params, api) => {
      const a = api.coord([api.value(0), api.value(2)]);
      const b = api.coord([api.value(1), 0]);
      return { type: 'rect', shape: { x: a[0], y: a[1], width: b[0] - a[0], height: b[1] - a[1] },
        style: { fill: p.color, stroke: 'rgba(255,255,255,0.5)', lineWidth: 0.5 } };
    }
  });

  // right marginal histogram
  const ri = addGrid({ left: x0 + 190.5, top: y0 + main.top, width: 31.5, height: main.height });
  const rMax = Math.max(...p.rh);
  xAxes.push({ gridIndex: ri, type: 'value', min: 0, max: rMax * 1.05, show: false });
  yAxes.push({ gridIndex: ri, type: 'value', min: lo, max: hi, show: false });
  series.push({
    type: 'custom', xAxisIndex: ri, yAxisIndex: ri, silent: true,
    data: p.rh.map((c, k) => [p.rhStart + k * binWidth, p.rhStart + (k + 1) * binWidth, c]),
    encode: { x: 2, y: [0, 1] },
    renderItem: (params, api) => {
      const a = api.coord([api.value(2), api.value(1)]);
      const b = api.coord([0, api.value(0)]);
      return { type: 'rect', shape: { x: b[0], y: a[1], width: a[0] - b[0], height: b[1] - a[1] },
        style: { fill: p.color, stroke: 'rgba(255,255,255,0.5)', lineWidth: 0.5 } };
    }
  });

  // two-line title
  graphics.push({ type: 'text', x: x0 + 104, y: y0 + 6, silent: true,
    style: { text: p.title, font: '8px ' + FONT, fill: '#000',
      textAlign: 'center', textVerticalAlign: 'middle', align: 'center', verticalAlign: 'middle' } });
  graphics.push({ type: 'text', x: x0 + 107, y: y0 + 15.3, silent: true,
    style: { text: p.stats, font: '8px ' + FONT, fill: '#000',
      textAlign: 'center', textVerticalAlign: 'middle', align: 'center', verticalAlign: 'middle' } });
});

const chart = echarts.init(document.getElementById('chart'), null, { renderer: 'canvas' });
chart.setOption({
  animation: false,
  backgroundColor: '#fff',
  grid: grids,
  xAxis: xAxes,
  yAxis: yAxes,
  series: series,
  graphic: graphics
});
</script>
</body>
</html>
